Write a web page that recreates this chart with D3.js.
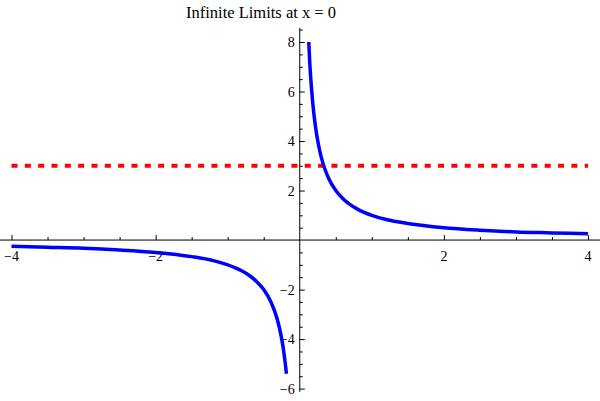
<!DOCTYPE html>
<html>
<head>
<meta charset="utf-8">
<script src="https://cdn.jsdelivr.net/npm/d3@7"></script>
<style>
  html, body { margin: 0; padding: 0; background: #fff; }
  svg { display: block; }
  text.lbl { font-family: "Liberation Serif", serif; font-size: 14px; fill: #000; }
</style>
</head>
<body>
<svg id="chart" width="600" height="401"></svg>
<script>
// ---- data ----
const titleText = "Infinite Limits at x = 0";
const rightX = [0.125, 0.14, 0.16, 0.18, 0.2, 0.23, 0.26, 0.3, 0.35, 0.4, 0.5, 0.6, 0.7, 0.8, 1, 1.2, 1.5, 2, 2.5, 3, 3.5, 4];
const rightY = [8, 7.1, 6.25, 5.55, 5, 4.35, 3.85, 3.33, 2.86, 2.5, 2, 1.67, 1.43, 1.25, 1, 0.83, 0.67, 0.5, 0.4, 0.33, 0.29, 0.25];
const leftX = [-4, -3.5, -3, -2.5, -2, -1.5, -1.2, -1, -0.8, -0.7, -0.6, -0.5, -0.4, -0.35, -0.3, -0.26, -0.23, -0.2, -0.185];
const leftY = [-0.25, -0.29, -0.33, -0.4, -0.5, -0.67, -0.83, -1, -1.25, -1.43, -1.67, -2, -2.5, -2.86, -3.33, -3.85, -4.35, -5, -5.4];
const refLineY = 3;
const refLineX = [-4, 4];
const xMajorTicks = [-4, -2, 2, 4];
const xMinorTicks = [-3.5, -3, -2.5, -1.5, -1, -0.5, 0.5, 1, 1.5, 2.5, 3, 3.5];
const yMajorTicks = [-6, -4, -2, 2, 4, 6, 8];
const yMinorTicks = [-5.5, -5, -4.5, -3.5, -3, -2.5, -1.5, -1, -0.5, 0.5, 1, 1.5, 2.5, 3, 3.5, 4.5, 5, 5.5, 6.5, 7, 7.5, 8.5];
const xAxisExtent = [-4.16, 4.17];
const yAxisExtent = [-6.13, 8.57];

const svg = d3.select("#chart");
const fmt = d3.format("");

const x = d3.scaleLinear().domain([-4, 4]).range([11.5, 588]);
const y = d3.scaleLinear().domain([-6, 8]).range([388.6, 42.0]);

// title
svg.append("text")
  .attr("x", 261).attr("y", 18)
  .attr("text-anchor", "middle")
  .attr("font-family", "Liberation Serif")
  .attr("font-size", 16.5)
  .attr("fill", "#000")
  .text(titleText);

// axes lines
svg.append("line")
  .attr("x1", x(xAxisExtent[0])).attr("x2", x(xAxisExtent[1]))
  .attr("y1", y(0)).attr("y2", y(0))
  .attr("stroke", "#000").attr("stroke-width", 1);
svg.append("line")
  .attr("x1", x(0)).attr("x2", x(0))
  .attr("y1", y(yAxisExtent[0])).attr("y2", y(yAxisExtent[1]))
  .attr("stroke", "#000").attr("stroke-width", 1);

// ticks via d3 axes (labels drawn separately)
const axes = [
  svg.append("g").attr("transform", `translate(0,${y(0)})`)
    .call(d3.axisBottom(x).tickValues(xMajorTicks).tickSizeInner(-5).tickSizeOuter(0).tickFormat("")),
  svg.append("g").attr("transform", `translate(0,${y(0)})`)
    .call(d3.axisBottom(x).tickValues(xMinorTicks).tickSizeInner(-3).tickSizeOuter(0).tickFormat("")),
  svg.append("g").attr("transform", `translate(${x(0)},0)`)
    .call(d3.axisLeft(y).tickValues(yMajorTicks).tickSizeInner(-5).tickSizeOuter(0).tickFormat("")),
  svg.append("g").attr("transform", `translate(${x(0)},0)`)
    .call(d3.axisLeft(y).tickValues(yMinorTicks).tickSizeInner(-3).tickSizeOuter(0).tickFormat(""))
];
axes.forEach(g => {
  g.select(".domain").remove();
  g.selectAll("line").attr("stroke", "#000").attr("stroke-width", 1);
  g.selectAll("text").remove();
});

// tick labels
svg.append("g").selectAll("text")
  .data(xMajorTicks).join("text")
  .attr("class", "lbl")
  .attr("x", d => x(d))
  .attr("y", y(0) + 21)
  .attr("text-anchor", "middle")
  .text(d => fmt(d));

svg.append("g").selectAll("text")
  .data(yMajorTicks).join("text")
  .attr("class", "lbl")
  .attr("x", x(0) - 5)
  .attr("y", d => y(d) + 5)
  .attr("text-anchor", "end")
  .text(d => fmt(d));

// reference line
svg.append("line")
  .attr("x1", x(refLineX[0])).attr("x2", x(refLineX[1]))
  .attr("y1", y(refLineY)).attr("y2", y(refLineY))
  .attr("stroke", "#ff0000")
  .attr("stroke-width", 4)
  .attr("stroke-dasharray", "6 7.33");

// curve
const line = d3.line()
  .x(d => x(d[0])).y(d => y(d[1]))
  .curve(d3.curveMonotoneX);

const right = rightX.map((v, i) => [v, rightY[i]]);
const left = leftX.map((v, i) => [v, leftY[i]]);

[left, right].forEach(pts => {
  svg.append("path")
    .datum(pts)
    .attr("d", line)
    .attr("fill", "none")
    .attr("stroke", "#0000ff")
    .attr("stroke-width", 3.5)
    .attr("stroke-linejoin", "round");
});
</script>
</body>
</html>
